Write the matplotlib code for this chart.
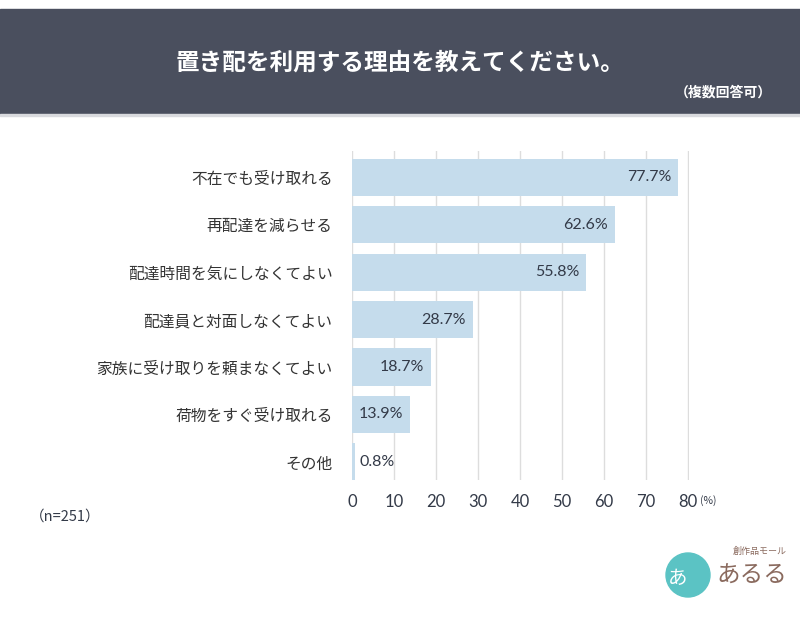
import matplotlib
matplotlib.use("Agg")
import matplotlib.pyplot as plt
from matplotlib.patches import Rectangle, Ellipse

plt.rcParams['font.family'] = ['Noto Sans CJK JP', 'DejaVu Sans']

# data
reasons = ['不在でも受け取れる', '再配達を減らせる', '配達時間を気にしなくてよい',
           '配達員と対面しなくてよい', '家族に受け取りを頼まなくてよい',
           '荷物をすぐ受け取れる', 'その他']
values = [77.7, 62.6, 55.8, 28.7, 18.7, 13.9, 0.8]
xticks = [0, 10, 20, 30, 40, 50, 60, 70, 80]

title = '置き配を利用する理由を教えてください。'
subtitle = '（複数回答可）'
note = '（n=251）'

W, H = 800, 617
fig = plt.figure(figsize=(8, 6.17), dpi=100)

# header band
fig.patches.append(Rectangle((0, 1 - 114 / H), 1, 105 / H, transform=fig.transFigure,
                             color='#4a4f5e', zorder=0))
fig.patches.append(Rectangle((0, 1 - 116 / H), 1, 2 / H, transform=fig.transFigure,
                             color='#d9dade', zorder=0))
fig.text(0.5, 1 - 63 / H, title, color='white', fontsize=17, fontweight='bold',
         ha='center', va='center')
fig.text(0.965, 1 - 92 / H, subtitle, color='white', fontsize=10, fontweight='bold',
         ha='right', va='center')

ax = fig.add_axes([352 / W, 1 - 480 / H, 337 / W, 329 / H])
y = range(len(reasons))
ax.barh(y, values, height=0.78, color='#c5dcec', zorder=2)
ax.set_xlim(0, 80.25)
ax.set_ylim(6.38, -0.55)
ax.set_yticks(list(y))
ax.set_yticklabels(reasons, fontsize=11.3, color='#333333')
ax.set_xticks(xticks)
ax.set_xticklabels([str(t) for t in xticks], fontsize=12, color='#333a48',
                   family=['Lato', 'DejaVu Sans'])
ax.tick_params(length=0, pad=14, axis='y')
ax.tick_params(length=0, pad=10, axis='x')
ax.grid(axis='x', color='#dddddd', linewidth=1, zorder=0)
for s in ax.spines.values():
    s.set_visible(False)

for i, v in enumerate(values):
    if v > 5:
        ax.annotate(f'{v}%', (v, i), xytext=(-5, 0), textcoords='offset points',
                    ha='right', va='center', fontsize=11.5, color='#333a48',
                    family=['Lato', 'DejaVu Sans'])
    else:
        ax.annotate(f'{v}%', (v, i), xytext=(3, 0), textcoords='offset points',
                    ha='left', va='center', fontsize=11.5, color='#333a48',
                    family=['Lato', 'DejaVu Sans'])

fig.text(700 / W, 1 - 501 / H, '(%)', fontsize=7.5, color='#333a48', ha='left', va='center')
fig.text(30 / W, 1 - 517 / H, note, fontsize=10.5, color='#333a48', ha='left', va='center')

# logo
fig.patches.append(Ellipse((688 / W, 1 - 575 / H), 44 / W, 44 / H,
                           transform=fig.transFigure, color='#5bc3c4', zorder=1))
fig.text(678 / W, 1 - 578 / H, 'あ', fontsize=14, color='white', ha='center', va='center')
fig.text(760 / W, 1 - 551 / H, '創作品モール', fontsize=6.5, color='#8a6a5e',
         ha='center', va='center')
fig.text(752 / W, 1 - 576 / H, 'あるる', fontsize=17, color='#8a6a5e',
         ha='center', va='center')

fig.savefig('out.png', dpi=100, facecolor='white')
